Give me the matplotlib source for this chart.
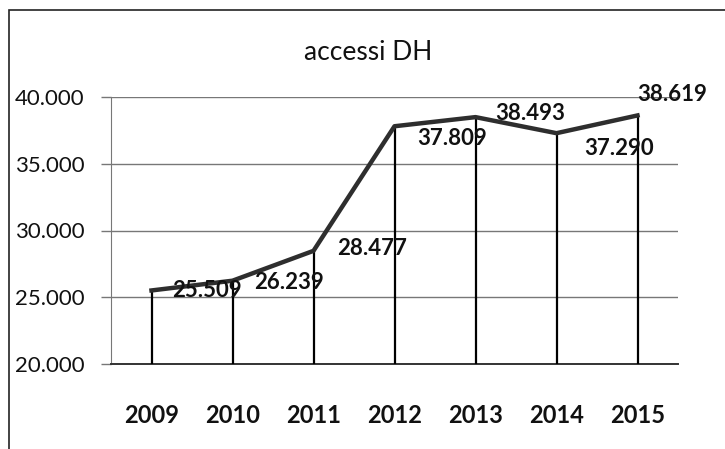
import matplotlib.pyplot as plt
from matplotlib.ticker import FuncFormatter
from matplotlib.patches import Rectangle

years = ['2009', '2010', '2011', '2012', '2013', '2014', '2015']
accessi = [25509, 26239, 28477, 37809, 38493, 37290, 38619]
yticks = [20000, 25000, 30000, 35000, 40000]

# posizione delle etichette (pixel rispetto al punto)
label_offsets = [(21, 0), (22, -2), (24, 2), (23, -12), (20, 4), (28, -15), (0, 21)]

plt.rcParams['font.family'] = ['Lato', 'DejaVu Sans']

fig = plt.figure(figsize=(7.25, 4.49), dpi=100)
ax = fig.add_axes([111/725, 1 - 364/449, (678 - 111)/725, (364 - 97)/449])

# cornice del grafico (tagliata a destra e in basso)
fig.patches.append(Rectangle((9/725, -0.1), 1.2, 1 - 10/449 + 0.1, transform=fig.transFigure,
                             fill=False, edgecolor='#222222', linewidth=1.2, clip_on=False))

x = list(range(len(years)))
ax.vlines(x, yticks[0], accessi, color='black', linewidth=1.6, zorder=3)
ax.plot(x, accessi, color='#2e2e2e', linewidth=3.2, zorder=4)

def fmt(v):
    return f"{v:,.0f}".replace(',', '.')

for xi, v, (dx, dy) in zip(x, accessi, label_offsets):
    ax.annotate(fmt(v), (xi, v), xytext=(dx, dy), textcoords='offset pixels',
                ha='left', va='center', fontsize=16, fontweight='bold', color='#111111',
                zorder=5)

ax.set_xlim(-0.5, len(years) - 0.5)
ax.set_ylim(yticks[0], yticks[-1])
ax.set_yticks(yticks)
ax.yaxis.set_major_formatter(FuncFormatter(lambda v, p: fmt(v)))
ax.set_xticks(x)
ax.set_xticklabels(years, fontsize=17, fontweight='bold', color='#111111')
ax.tick_params(axis='x', length=0, pad=29)
ax.tick_params(axis='y', length=7, width=1, color='#777777', labelsize=16, pad=12, labelcolor='#111111')
ax.grid(axis='y', color='#777777', linewidth=1)
ax.set_axisbelow(True)

for s in ['top', 'right']:
    ax.spines[s].set_visible(False)
ax.spines['left'].set_color('#777777')
ax.spines['bottom'].set_color('#333333')
ax.spines['bottom'].set_linewidth(1.4)

fig.text(368/725, 1 - 53/449, 'accessi DH', ha='center', va='center', fontsize=19, color='#111111')

fig.savefig('out.png', dpi=100)
